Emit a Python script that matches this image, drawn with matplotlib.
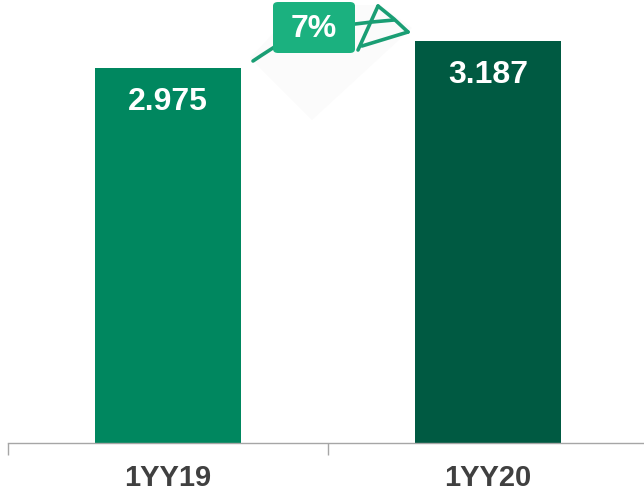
import matplotlib.pyplot as plt
from matplotlib.patches import FancyBboxPatch, Polygon
from matplotlib.lines import Line2D

categories = ["1YY19", "1YY20"]
values = [2.975, 3.187]
value_labels = ["2.975", "3.187"]
growth_label = "7%"

bar_colors = ["#00875F", "#005A42"]
box_color = "#1BB17F"
stroke_color = "#1A9E74"
text_gray = "#404040"

W, H = 644, 492
fig = plt.figure(figsize=(W / 100, H / 100), dpi=100)


def px(x, y):
    # pixel position (top-left origin) -> figure fraction
    return (x / W, 1 - y / H)


ax = fig.add_axes([8 / W, 49 / H, 640 / W, 443 / H])
ax.bar(range(len(values)), values, width=0.456, color=bar_colors)
ax.set_xlim(-0.5, 1.5)
ax.set_ylim(0, 3.513)

for s in ["top", "left", "right"]:
    ax.spines[s].set_visible(False)
ax.spines["bottom"].set_color("#A6A6A6")
ax.spines["bottom"].set_linewidth(1.0)
ax.set_yticks([])

ax.set_xticks(range(len(categories)))
ax.set_xticklabels(categories, fontsize=21, fontweight="bold", color=text_gray,
                   family="Liberation Sans")
ax.tick_params(axis="x", which="major", length=0, pad=15)
ax.set_xticks([-0.5, 0.5, 1.5], minor=True)
ax.tick_params(axis="x", which="minor", length=8.6, width=1.0, color="#A6A6A6")

for i, (v, lab) in enumerate(zip(values, value_labels)):
    ax.text(i, v - 0.15, lab, ha="center", va="top", color="white",
            fontsize=23, fontweight="bold", family="Liberation Sans")

# faint shadow behind the growth marker
fig.patches.append(Polygon([px(250, 58), px(312, 120), px(412, 28), px(380, 5), px(300, 5)],
                           closed=True, transform=fig.transFigure,
                           facecolor="#FBFBFB", edgecolor="none", zorder=1))

# hand drawn arrow strokes
strokes = [
    [(253, 61), (262, 55), (276, 46)],
    [(355, 24), (372, 22), (394, 20)],
    [(378, 6), (368, 28), (358, 50)],
    [(378, 6), (394, 19), (408, 32)],
    [(408, 32), (385, 39), (362, 46)],
]
for st in strokes:
    xs = [px(x, y)[0] for x, y in st]
    ys = [px(x, y)[1] for x, y in st]
    fig.lines.append(Line2D(xs, ys, transform=fig.transFigure, color=stroke_color,
                            linewidth=2.6, solid_capstyle="round", zorder=3))

bx0, by0 = px(273, 53)
bx1, by1 = px(355, 2)
fig.patches.append(FancyBboxPatch((bx0, by0), bx1 - bx0, by1 - by0,
                                  boxstyle="round,pad=0,rounding_size=0.008",
                                  transform=fig.transFigure, facecolor=box_color,
                                  edgecolor="none", zorder=4))
tx, ty = px(314, 29)
fig.text(tx, ty, growth_label, ha="center", va="center", color="white",
         fontsize=23, fontweight="bold", family="Liberation Sans", zorder=5)

fig.savefig("out.png", dpi=100)
